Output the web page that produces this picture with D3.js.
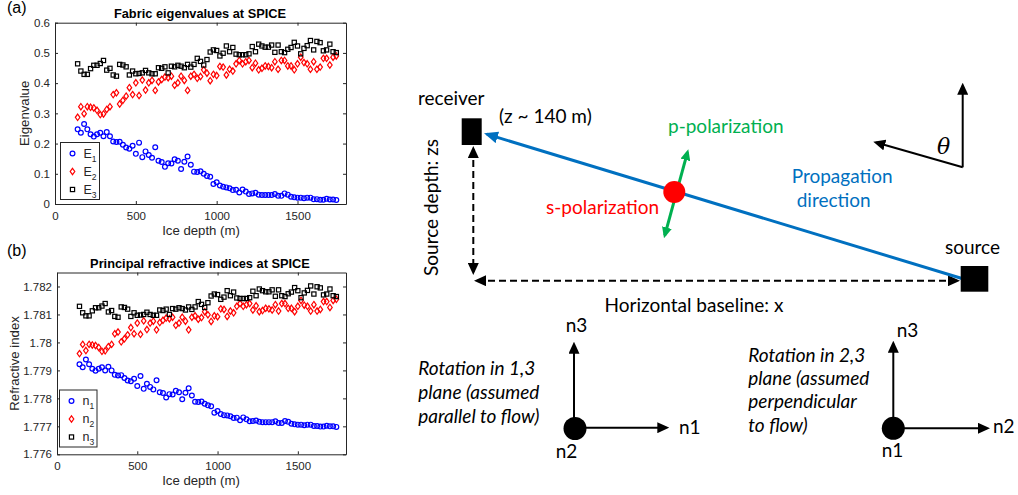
<!DOCTYPE html>
<html>
<head>
<meta charset="utf-8">
<script src="https://cdn.jsdelivr.net/npm/d3@7"></script>
<style>
  body { margin: 0; background: #fff; }
  svg { display: block; }
</style>
</head>
<body>
<svg id="fig" width="1018" height="495"></svg>
<script>
// ---- data (depth in m, one sample every 20 m) ----
const depth = [140,160,180,200,220,240,260,280,300,320,340,360,380,400,420,440,460,480,500,520,
  540,560,580,600,620,640,660,680,700,720,740,760,780,800,820,840,860,880,900,920,
  940,960,980,1000,1020,1040,1060,1080,1100,1120,1140,1160,1180,1200,1220,1240,1260,1280,1300,1320,
  1340,1360,1380,1400,1420,1440,1460,1480,1500,1520,1540,1560,1580,1600,1620,1640,1660,1680,1700,1720,1740];

const E1 = [0.247,0.236,0.265,0.247,0.231,0.223,0.231,0.236,0.224,0.238,
  0.224,0.207,0.205,0.206,0.196,0.187,0.183,0.193,0.166,0.203,
  0.155,0.174,0.162,0.153,0.188,0.143,0.139,0.123,0.135,0.134,
  0.148,0.143,0.116,0.140,0.157,0.130,0.107,0.106,0.108,0.100,
  0.093,0.090,0.066,0.072,0.061,0.057,0.055,0.052,0.046,0.047,
  0.038,0.048,0.041,0.033,0.035,0.037,0.031,0.030,0.030,0.030,
  0.030,0.033,0.027,0.027,0.035,0.031,0.024,0.022,0.021,0.021,
  0.019,0.021,0.021,0.016,0.016,0.014,0.014,0.017,0.015,0.015,
  0.013];
const E2 = [0.287,0.322,0.299,0.322,0.320,0.318,0.310,0.296,0.298,0.313,
  0.322,0.362,0.368,0.331,0.343,0.357,0.385,0.362,0.401,0.359,
  0.410,0.377,0.401,0.409,0.376,0.404,0.412,0.420,0.418,0.423,
  0.393,0.401,0.423,0.409,0.376,0.423,0.429,0.416,0.422,0.444,
  0.433,0.408,0.429,0.425,0.455,0.453,0.427,0.446,0.440,0.464,
  0.475,0.464,0.471,0.475,0.451,0.466,0.444,0.449,0.457,0.455,
  0.451,0.471,0.446,0.475,0.475,0.457,0.457,0.444,0.464,0.486,
  0.468,0.464,0.446,0.471,0.446,0.453,0.482,0.482,0.460,0.486,
  0.490];
const E3 = [0.464,0.440,0.429,0.429,0.448,0.459,0.459,0.465,0.475,0.443,
  0.449,0.427,0.423,0.462,0.460,0.454,0.427,0.440,0.431,0.432,
  0.434,0.442,0.434,0.431,0.431,0.451,0.449,0.454,0.434,0.456,
  0.454,0.459,0.456,0.451,0.462,0.453,0.462,0.482,0.472,0.460,
  0.478,0.503,0.510,0.508,0.490,0.499,0.523,0.504,0.518,0.496,
  0.494,0.494,0.494,0.497,0.521,0.504,0.529,0.523,0.519,0.519,
  0.526,0.502,0.526,0.504,0.501,0.512,0.518,0.535,0.523,0.497,
  0.515,0.524,0.541,0.510,0.538,0.534,0.507,0.510,0.529,0.504,
  0.501];

const n1 = [1.77922,1.77911,1.77939,1.77922,1.77906,1.77899,1.77906,1.77911,1.77900,1.77913,
  1.77900,1.77884,1.77882,1.77883,1.77873,1.77864,1.77861,1.77870,1.77844,1.77880,
  1.77834,1.77852,1.77841,1.77832,1.77865,1.77822,1.77819,1.77803,1.77815,1.77814,
  1.77827,1.77822,1.77797,1.77820,1.77836,1.77810,1.77788,1.77787,1.77789,1.77781,
  1.77775,1.77772,1.77749,1.77755,1.77744,1.77740,1.77739,1.77736,1.77730,1.77731,
  1.77722,1.77732,1.77725,1.77718,1.77719,1.77721,1.77716,1.77715,1.77715,1.77715,
  1.77715,1.77718,1.77712,1.77712,1.77719,1.77716,1.77709,1.77707,1.77706,1.77706,
  1.77704,1.77706,1.77706,1.77701,1.77701,1.77699,1.77699,1.77702,1.77700,1.77700,
  1.77698];
const n2 = [1.77960,1.77993,1.77971,1.77993,1.77991,1.77989,1.77982,1.77968,1.77970,1.77985,
  1.77993,1.78031,1.78037,1.78002,1.78013,1.78027,1.78053,1.78031,1.78069,1.78029,
  1.78077,1.78046,1.78069,1.78076,1.78045,1.78071,1.78079,1.78087,1.78085,1.78090,
  1.78061,1.78069,1.78090,1.78076,1.78045,1.78090,1.78095,1.78083,1.78089,1.78110,
  1.78099,1.78075,1.78095,1.78092,1.78120,1.78118,1.78093,1.78112,1.78106,1.78129,
  1.78139,1.78129,1.78135,1.78139,1.78116,1.78131,1.78110,1.78114,1.78122,1.78120,
  1.78116,1.78135,1.78112,1.78139,1.78139,1.78122,1.78122,1.78110,1.78129,1.78150,
  1.78133,1.78129,1.78112,1.78135,1.78112,1.78118,1.78146,1.78146,1.78125,1.78150,
  1.78154];
const n3 = [1.78129,1.78106,1.78095,1.78095,1.78113,1.78124,1.78124,1.78130,1.78139,1.78109,
  1.78114,1.78093,1.78090,1.78127,1.78125,1.78119,1.78093,1.78106,1.78097,1.78098,
  1.78100,1.78108,1.78100,1.78097,1.78097,1.78116,1.78114,1.78119,1.78100,1.78121,
  1.78119,1.78124,1.78121,1.78116,1.78127,1.78118,1.78127,1.78146,1.78136,1.78125,
  1.78142,1.78166,1.78173,1.78171,1.78154,1.78162,1.78185,1.78167,1.78180,1.78159,
  1.78157,1.78157,1.78157,1.78160,1.78183,1.78167,1.78191,1.78185,1.78181,1.78181,
  1.78188,1.78165,1.78188,1.78167,1.78164,1.78174,1.78180,1.78196,1.78185,1.78160,
  1.78177,1.78186,1.78202,1.78173,1.78199,1.78195,1.78170,1.78173,1.78191,1.78167,
  1.78164];

const xTicks = [0, 500, 1000, 1500];
const yTicksA = [0, 0.1, 0.2, 0.3, 0.4, 0.5, 0.6];
const yTicksB = [1.776, 1.777, 1.778, 1.779, 1.78, 1.781, 1.782];
const yLabelsB = ['1.776', '1.777', '1.778', '1.779', '1.78', '1.781', '1.782'];

const svg = d3.select('#fig');
svg.append('rect').attr('width', 1018).attr('height', 495).attr('fill', '#fff');

const AX = '#262626';
const PLOT_FONT = '"Liberation Sans", Arial, sans-serif';
const DIA_FONT = 'Lato, "Open Sans", sans-serif';
const DIA_SIZE = 19;

// marker shapes, MATLAB style: o (blue), d (red), s (black)
function drawMarker(sel, kind) {
  if (kind === 'o') {
    sel.append('circle').attr('r', 2.4).attr('fill', 'none').attr('stroke', '#0000ff').attr('stroke-width', 1.2);
  } else if (kind === 'd') {
    sel.append('path').attr('d', 'M0,-3.2L2.3,0L0,3.2L-2.3,0Z').attr('fill', 'none').attr('stroke', '#ff0000').attr('stroke-width', 1.2);
  } else {
    sel.append('rect').attr('x', -2.1).attr('y', -2.1).attr('width', 4.2).attr('height', 4.2)
      .attr('fill', 'none').attr('stroke', '#000').attr('stroke-width', 1.2);
  }
}

function drawPanel(o) {
  const g = svg.append('g');
  const x = d3.scaleLinear().domain([0, 1800]).range([o.left, o.right]);
  const y = d3.scaleLinear().domain(o.yDomain).range([o.bottom, o.top]);

  g.append('g').attr('transform', `translate(0,${o.bottom})`)
    .call(d3.axisBottom(x).tickValues(xTicks).tickFormat(d3.format('d')).tickSizeInner(-3).tickSizeOuter(0).tickPadding(8));
  g.append('g').attr('transform', `translate(0,${o.top})`)
    .call(d3.axisTop(x).tickValues(xTicks).tickFormat(() => '').tickSizeInner(-3).tickSizeOuter(0));
  g.append('g').attr('transform', `translate(${o.left},0)`)
    .call(d3.axisLeft(y).tickValues(o.yTicks).tickFormat((d, i) => o.yLabels[i]).tickSizeInner(-3).tickSizeOuter(0).tickPadding(5));
  g.append('g').attr('transform', `translate(${o.right},0)`)
    .call(d3.axisRight(y).tickValues(o.yTicks).tickFormat(() => '').tickSizeInner(-3).tickSizeOuter(0));

  g.selectAll('.domain, .tick line').attr('stroke', AX).attr('stroke-width', 1);
  g.selectAll('.tick text').attr('fill', AX).style('font', `11.5px ${PLOT_FONT}`);

  // series
  o.series.forEach(s => {
    const pts = g.append('g').selectAll('g').data(depth.map((d, i) => [d, s.values[i]]))
      .enter().append('g')
      .attr('transform', d => `translate(${x(d[0])},${y(d[1])})`);
    drawMarker(pts, s.kind);
  });

  // titles and labels
  g.append('text').attr('x', 200).attr('y', o.top - 5).attr('text-anchor', 'middle')
    .style('font', `bold 12.8px ${PLOT_FONT}`).attr('fill', '#000').text(o.title);
  g.append('text').attr('x', 201).attr('y', o.bottom + 31).attr('text-anchor', 'middle')
    .style('font', `13.2px ${PLOT_FONT}`).attr('fill', AX).text('Ice depth (m)');
  g.append('text').attr('transform', `translate(${o.ylabelX},${(o.top + o.bottom) / 2}) rotate(-90)`)
    .attr('text-anchor', 'middle').style('font', `13.2px ${PLOT_FONT}`).attr('fill', AX).text(o.ylabel);
  g.append('text').attr('x', 7).attr('y', o.tagY).style('font', `16px ${PLOT_FONT}`).attr('fill', '#000').text(o.tag);

  // legend
  const lg = g.append('g').attr('transform', `translate(${o.legend[0]},${o.legend[1]})`);
  lg.append('rect').attr('width', o.legend[2]).attr('height', o.legend[3])
    .attr('fill', '#fff').attr('stroke', AX).attr('stroke-width', 1);
  o.series.forEach((s, i) => {
    const row = lg.append('g').attr('transform', `translate(0,${11 + i * 18})`);
    drawMarker(row.append('g').attr('transform', 'translate(12,0)'), s.kind);
    const t = row.append('text').attr('x', 23).attr('y', 4).attr('fill', AX).style('font', `12.5px ${PLOT_FONT}`);
    t.append('tspan').text(s.name);
    t.append('tspan').attr('dy', 4).style('font-size', '8.5px').text(s.sub);
  });
}

drawPanel({
  left: 55, right: 346, top: 22.7, bottom: 204,
  yDomain: [0, 0.6], yTicks: yTicksA, yLabels: yTicksA.map(d3.format('~g')),
  title: 'Fabric eigenvalues at SPICE', ylabel: 'Eigenvalue', ylabelX: 29,
  tag: '(a)', tagY: 13,
  legend: [60.5, 142.5, 39, 57],
  series: [
    { values: E1, kind: 'o', name: 'E', sub: '1' },
    { values: E2, kind: 'd', name: 'E', sub: '2' },
    { values: E3, kind: 's', name: 'E', sub: '3' }
  ]
});

drawPanel({
  left: 57, right: 346, top: 272.5, bottom: 454.3,
  yDomain: [1.776, 1.7825], yTicks: yTicksB, yLabels: yLabelsB,
  title: 'Principal refractive indices at SPICE', ylabel: 'Refractive index', ylabelX: 19,
  tag: '(b)', tagY: 256,
  legend: [59.5, 390, 37.5, 57],
  series: [
    { values: n1, kind: 'o', name: 'n', sub: '1' },
    { values: n2, kind: 'd', name: 'n', sub: '2' },
    { values: n3, kind: 's', name: 'n', sub: '3' }
  ]
});

// ---- schematic on the right ----
const BLUE = '#0070c0', GREEN = '#00b050', RED = '#ff0000';
const defs = svg.append('defs');
function makeHead(id, color, len, wid) {
  defs.append('marker').attr('id', id)
    .attr('markerUnits', 'userSpaceOnUse')
    .attr('markerWidth', len).attr('markerHeight', wid)
    .attr('viewBox', `0 0 ${len} ${wid}`)
    .attr('refX', len - 3).attr('refY', wid / 2)
    .attr('orient', 'auto-start-reverse')
    .append('path').attr('d', `M0,0L${len},${wid / 2}L0,${wid}Z`).attr('fill', color);
}
makeHead('hk', '#000', 12, 11);
makeHead('hb', BLUE, 14, 12);
makeHead('hg', GREEN, 11, 10);

const dg = svg.append('g');

function arrow(p1, p2, o) {
  const dx = p2[0] - p1[0], dy = p2[1] - p1[1], L = Math.hypot(dx, dy);
  const ux = dx / L, uy = dy / L, s = 3;
  const a = o.start ? [p1[0] + ux * s, p1[1] + uy * s] : p1;
  const b = o.end ? [p2[0] - ux * s, p2[1] - uy * s] : p2;
  dg.append('line')
    .attr('x1', a[0]).attr('y1', a[1]).attr('x2', b[0]).attr('y2', b[1])
    .attr('stroke', o.color).attr('stroke-width', o.w)
    .attr('stroke-dasharray', o.dash || null)
    .attr('marker-start', o.start ? `url(#${o.head})` : null)
    .attr('marker-end', o.end ? `url(#${o.head})` : null);
}

function label(x, y, txt, o = {}) {
  return dg.append('text').attr('x', x).attr('y', y)
    .attr('text-anchor', o.anchor || 'start')
    .attr('fill', o.color || '#000')
    .style('font', `${o.italic ? 'italic ' : ''}${o.size || DIA_SIZE}px ${o.family || DIA_FONT}`)
    .text(txt);
}

// dashed geometry arrows
arrow([473.3, 146], [473.3, 275], { color: '#000', w: 2, dash: '7,4', head: 'hk', start: true, end: true });
arrow([474, 280.7], [960, 280.7], { color: '#000', w: 2, dash: '7,4', head: 'hk', start: true, end: true });

// propagation ray
arrow([962, 278.5], [484, 133.3], { color: BLUE, w: 3, head: 'hb', end: true });

// receiver and source
dg.append('rect').attr('x', 461.7).attr('y', 118.3).attr('width', 20).attr('height', 26.7).attr('fill', '#000');
dg.append('rect').attr('x', 960.7).attr('y', 266).attr('width', 27.6).attr('height', 25.7).attr('fill', '#000');

// polarizations
arrow([664, 238.3], [688.3, 149.3], { color: GREEN, w: 3, head: 'hg', start: true, end: true });
dg.append('circle').attr('cx', 674.3).attr('cy', 192).attr('r', 11).attr('fill', RED);

label(418, 105, 'receiver');
label(499, 123, '(z ~ 140 m)');
label(668, 133, 'p-polarization', { color: GREEN });
label(546, 214, 's-polarization', { color: RED });
label(791.7, 183.3, 'Propagation', { color: BLUE });
label(796.7, 207, 'direction', { color: BLUE });
label(945, 254.3, 'source');
label(694, 311.7, 'Horizontal baseline: x', { anchor: 'middle' });
dg.append('text').attr('transform', 'translate(438,207.5) rotate(-90)')
  .attr('text-anchor', 'middle').attr('fill', '#000')
  .style('font', `${DIA_SIZE}px ${DIA_FONT}`).text('Source depth: zs');

// angle sketch
arrow([962.7, 167.3], [962.7, 82.7], { color: '#000', w: 2, head: 'hk', end: true });
arrow([962.7, 167.3], [873.3, 141.7], { color: '#000', w: 2, head: 'hk', end: true });
label(937, 154, 'θ', { italic: true, size: 22, family: '"DejaVu Serif", serif' });

// principal axes, rotation in 1,3 plane
arrow([574, 428], [574, 341.7], { color: '#000', w: 2, head: 'hk', end: true });
arrow([575, 427.7], [669.3, 427.7], { color: '#000', w: 2, head: 'hk', end: true });
dg.append('circle').attr('cx', 575).attr('cy', 428.5).attr('r', 11.5).attr('fill', '#000');
label(576.5, 331.7, 'n3', { anchor: 'middle' });
label(679, 434.3, 'n1');
label(566.5, 458.3, 'n2', { anchor: 'middle' });
['Rotation in 1,3', 'plane (assumed', 'parallel to flow)'].forEach((t, i) =>
  label(418.3, 375 + i * 23.8, t, { italic: true }));

// principal axes, rotation in 2,3 plane
arrow([893.3, 428], [893.3, 340.7], { color: '#000', w: 2, head: 'hk', end: true });
arrow([894, 428.3], [990, 428.3], { color: '#000', w: 2, head: 'hk', end: true });
dg.append('circle').attr('cx', 893.3).attr('cy', 428.3).attr('r', 11.5).attr('fill', '#000');
label(896.7, 336.7, 'n3');
label(993, 432.7, 'n2');
label(892.5, 456.7, 'n1', { anchor: 'middle' });
['Rotation in 2,3', 'plane (assumed', 'perpendicular', 'to flow)'].forEach((t, i) =>
  label(748.3, 361.7 + i * 23.3, t, { italic: true }));
</script>
</body>
</html>
